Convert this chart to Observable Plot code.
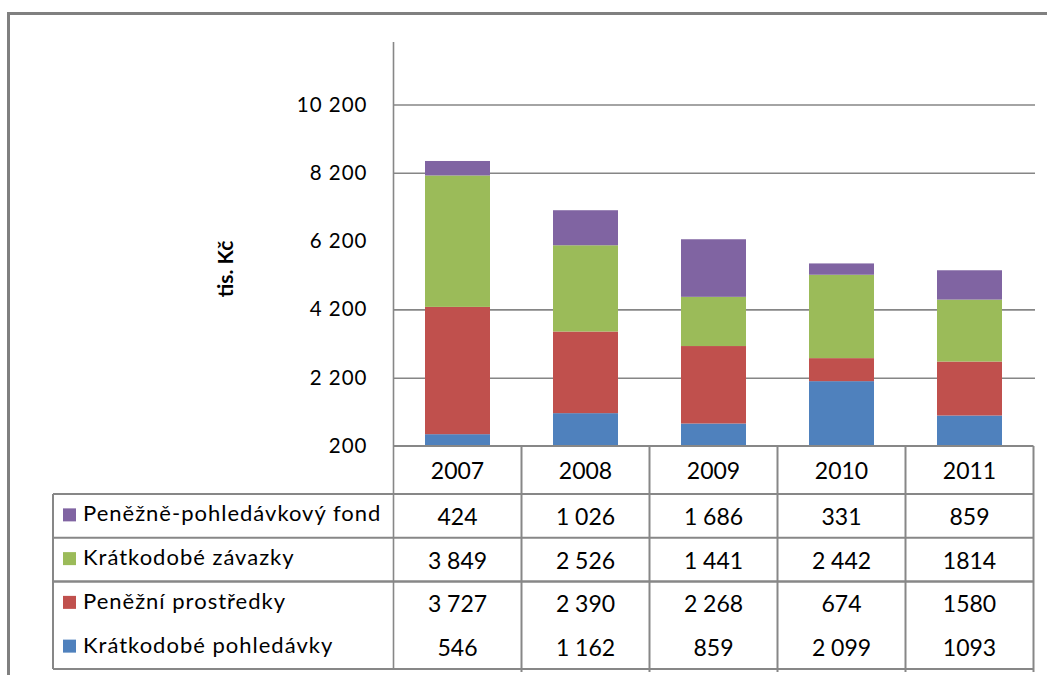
<!DOCTYPE html>
<html>
<head>
<meta charset="utf-8">
<script src="https://cdn.jsdelivr.net/npm/d3@7"></script>
<script src="https://cdn.jsdelivr.net/npm/@observablehq/plot@0.6"></script>
<style>
  html, body { margin: 0; padding: 0; background: #fff; }
  #chart { width: 1047px; height: 675px; }
</style>
</head>
<body>
<div id="chart"></div>
<script>
// ---- data ----
const years = ["2007", "2008", "2009", "2010", "2011"];
const seriesNames = ["Krátkodobé pohledávky", "Peněžní prostředky", "Krátkodobé závazky", "Peněžně-pohledávkový fond"];
const seriesColors = ["#4F81BD", "#C0504D", "#9BBB59", "#8064A2"];
const pohledavky = [546, 1162, 859, 2099, 1093];
const prostredky = [3727, 2390, 2268, 674, 1580];
const zavazky = [3849, 2526, 1441, 2442, 1814];
const fond = [424, 1026, 1686, 331, 859];
// table texts as printed
const fondLabels = ["424", "1 026", "1 686", "331", "859"];
const zavazkyLabels = ["3 849", "2 526", "1 441", "2 442", "1814"];
const prostredkyLabels = ["3 727", "2 390", "2 268", "674", "1580"];
const pohledavkyLabels = ["546", "1 162", "859", "2 099", "1093"];
const yTicks = [200, 2200, 4200, 6200, 8200, 10200];
const gridValues = [2200, 4200, 8200, 10200];
const yMin = 200, yMax = 12030;
const yTitle = "tis. Kč";

const seriesValues = [pohledavky, prostredky, zavazky, fond];
const tidy = [];
seriesNames.forEach((s, si) => years.forEach((yr, i) => tidy.push({year: yr, series: s, value: seriesValues[si][i]})));

const fmt = d3.formatLocale({decimal: ",", thousands: " ", grouping: [3], currency: ["", ""]}).format(",");

const plot = Plot.plot({
  width: 1047,
  height: 675,
  marginLeft: 393,
  marginRight: 12,
  marginTop: 42,
  marginBottom: 229,
  style: {fontFamily: "Lato, 'Liberation Sans', sans-serif", color: "#000", background: "#fff"},
  x: {domain: years, paddingInner: 0.49, paddingOuter: 0.245, axis: null},
  y: {domain: [yMin, yMax], clamp: true, axis: null},
  color: {domain: seriesNames, range: seriesColors},
  marks: [
    Plot.ruleY(gridValues, {stroke: "#868686", strokeWidth: 1.6}),
    Plot.barY(tidy, Plot.stackY({x: "year", y: "value", fill: "series", order: seriesNames, clip: true})),
    Plot.axisY({ticks: yTicks, tickSize: 0, tickPadding: 26, tickFormat: fmt, fontSize: 20.5, fill: "#000", label: null})
  ]
});
document.getElementById("chart").appendChild(plot);

// ---- table, axis line, title, frame (positions derived from plot scales) ----
const svg = d3.select(plot);
const xs = plot.scale("x");
const ys = plot.scale("y");
const step = xs.step, bw = xs.bandwidth;
const colLeft = yr => xs.apply(yr) + bw / 2 - step / 2;
const plotLeft = colLeft(years[0]);
const plotRight = colLeft(years[years.length - 1]) + step;
const baseY = ys.apply(yMin);
const topY = ys.apply(yMax);
const headerBottom = baseY + 48;
const rowH = 43.75;
const rowTops = [0, 1, 2, 3].map(i => headerBottom + i * rowH);
const tableBottom = headerBottom + 4 * rowH;
const legendLeft = 53;
const lineColor = "#878787";

svg.selectAll("g[aria-label='y-axis tick label'] text").attr("letter-spacing", "1px");

const g = svg.append("g");
// axis line
g.append("line").attr("x1", plotLeft).attr("x2", plotLeft).attr("y1", topY).attr("y2", tableBottom)
  .attr("stroke", lineColor).attr("stroke-width", 1.6);
// horizontal table lines
g.append("line").attr("x1", plotLeft).attr("x2", plotRight).attr("y1", baseY).attr("y2", baseY)
  .attr("stroke", lineColor).attr("stroke-width", 2.2);
[headerBottom, rowTops[1], rowTops[2], tableBottom].forEach((yy, i) => {
  g.append("line").attr("x1", legendLeft).attr("x2", plotRight).attr("y1", yy).attr("y2", yy)
    .attr("stroke", lineColor).attr("stroke-width", i === 2 ? 2.6 : 2);
});
// vertical table lines
g.append("line").attr("x1", legendLeft).attr("x2", legendLeft).attr("y1", headerBottom).attr("y2", tableBottom)
  .attr("stroke", lineColor).attr("stroke-width", 2);
years.forEach(yr => {
  const xr = colLeft(yr) + step;
  g.append("line").attr("x1", xr).attr("x2", xr).attr("y1", baseY).attr("y2", tableBottom + 3)
    .attr("stroke", lineColor).attr("stroke-width", 2);
});
// header years
years.forEach(yr => {
  g.append("text").attr("x", xs.apply(yr) + bw / 2).attr("y", (baseY + headerBottom) / 2)
    .attr("text-anchor", "middle").attr("dominant-baseline", "central")
    .attr("font-size", 23).attr("fill", "#000").text(yr);
});
// rows (top to bottom: fond, zavazky, prostredky, pohledavky)
const rowsOrder = [3, 2, 1, 0];
const rowLabels = [fondLabels, zavazkyLabels, prostredkyLabels, pohledavkyLabels];
rowsOrder.forEach((si, r) => {
  const cy = rowTops[r] + rowH / 2;
  g.append("rect").attr("x", 63).attr("y", cy - 7.5).attr("width", 13).attr("height", 13)
    .attr("fill", seriesColors[si]);
  g.append("text").attr("x", 83).attr("y", cy - 3).attr("text-anchor", "start").attr("dominant-baseline", "central")
    .attr("font-size", 22).attr("letter-spacing", "1px").attr("fill", "#000").text(seriesNames[si]);
  years.forEach((yr, i) => {
    g.append("text").attr("x", xs.apply(yr) + bw / 2).attr("y", cy)
      .attr("text-anchor", "middle").attr("dominant-baseline", "central")
      .attr("font-size", 23).attr("fill", "#000").text(rowLabels[r][i]);
  });
});
// y title
g.append("text").attr("transform", `translate(224,${(topY + baseY) / 2 + 25}) rotate(-90)`)
  .attr("text-anchor", "middle").attr("dominant-baseline", "central")
  .attr("font-size", 21).attr("font-weight", "bold").attr("fill", "#000").text(yTitle);
// outer frame (cropped)
g.append("path").attr("d", `M8.5,675 V13.5 H1047`).attr("fill", "none")
  .attr("stroke", "#808080").attr("stroke-width", 3);
</script>
</body>
</html>
